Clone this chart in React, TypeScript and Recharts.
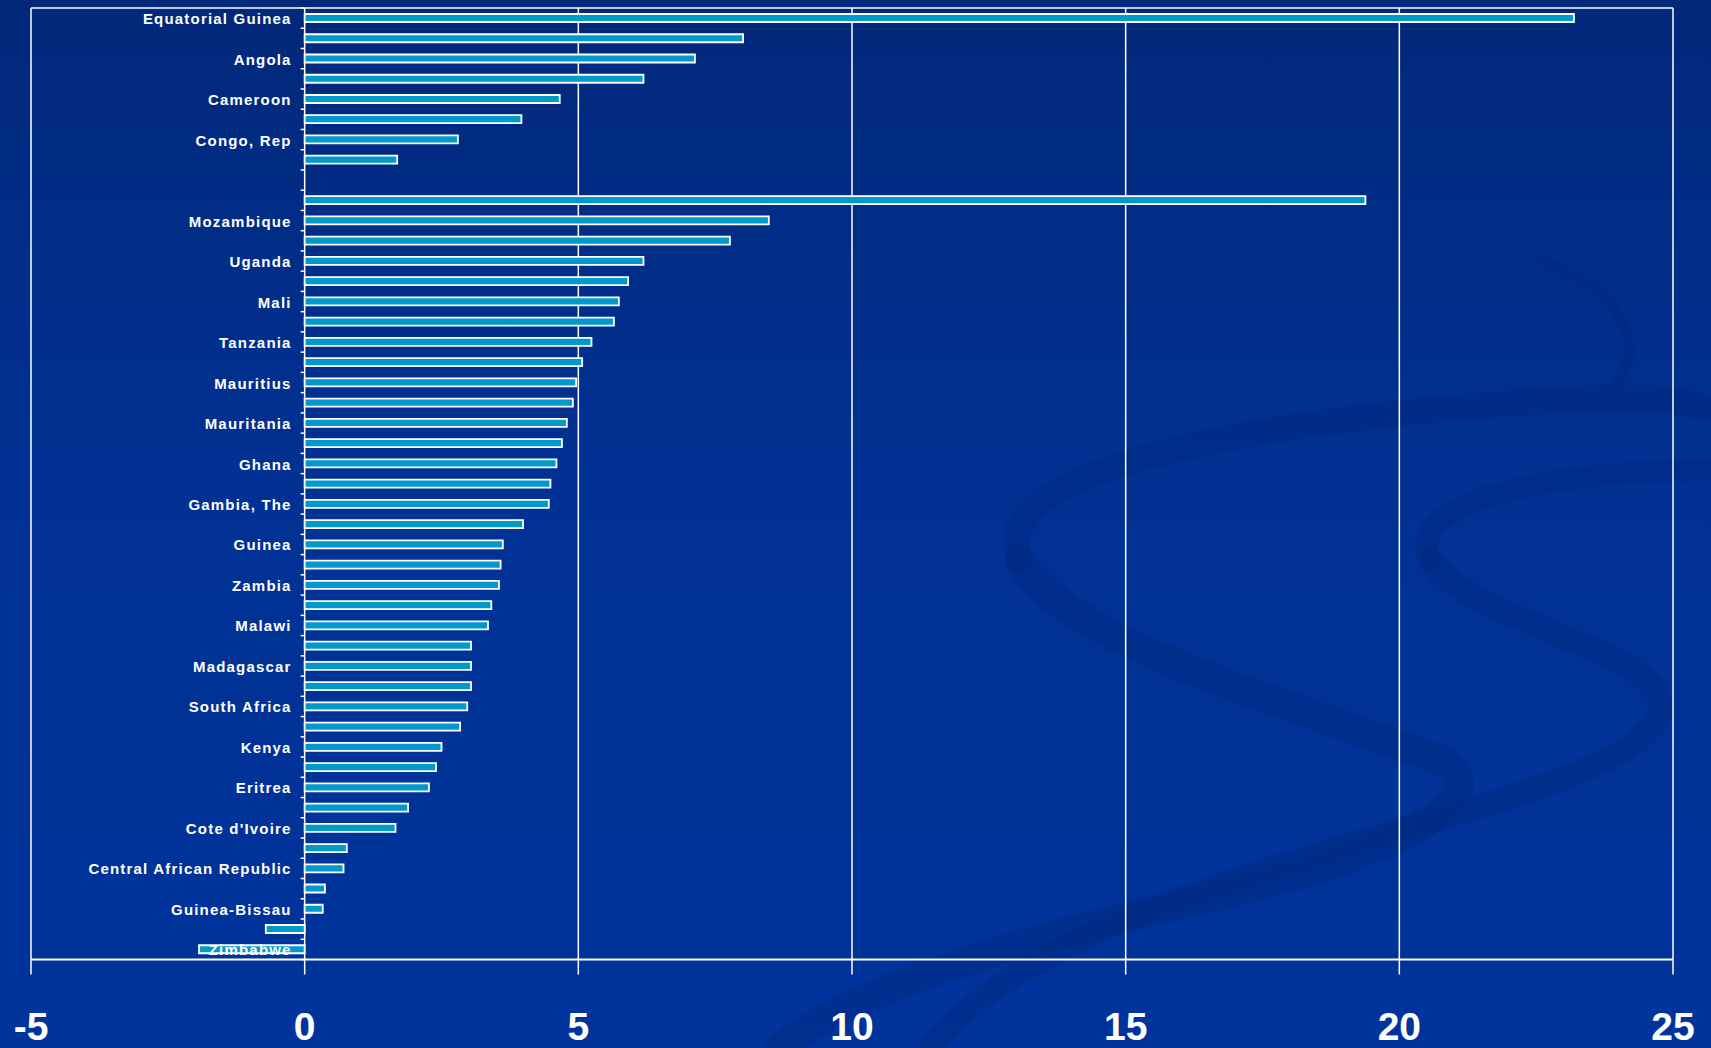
import { Bar, BarChart, CartesianGrid, XAxis, YAxis } from "recharts"

// countries, top to bottom (only every other one is labelled on the chart)
const countries = [
  "Equatorial Guinea", "Chad", "Angola", "Sudan", "Cameroon", "Nigeria", "Congo, Rep", "Gabon",
  "",
  "Sierra Leone", "Mozambique", "Rwanda", "Uganda", "Ethiopia", "Mali", "Burkina Faso",
  "Tanzania", "Cape Verde", "Mauritius", "Botswana", "Mauritania", "Benin", "Ghana", "Senegal",
  "Gambia, The", "Namibia", "Guinea", "Niger", "Zambia", "Lesotho", "Malawi", "Sao Tome",
  "Madagascar", "Swaziland", "South Africa", "Togo", "Kenya", "Comoros", "Eritrea", "Burundi",
  "Cote d'Ivoire", "Seychelles", "Central African Republic", "Congo, Dem Rep", "Guinea-Bissau",
  "Liberia", "Zimbabwe",
]

const growth = [
  23.19, 8.01, 7.13, 6.19, 4.66, 3.96, 2.8, 1.69,
  null,
  19.38, 8.48, 7.77, 6.19, 5.91, 5.74, 5.65,
  5.24, 5.07, 4.96, 4.9, 4.79, 4.7, 4.6, 4.49,
  4.46, 3.99, 3.62, 3.58, 3.55, 3.41, 3.35, 3.04,
  3.04, 3.04, 2.97, 2.84, 2.5, 2.4, 2.27, 1.89,
  1.66, 0.77, 0.71, 0.37, 0.33,
  -0.71, -1.93,
]

const xTicks = [-5, 0, 5, 10, 15, 20, 25]

const data = countries.map((name, i) => ({ name, value: growth[i] }))

const W = 1711
const H = 1048
const PLOT_LEFT = 31
const PLOT_RIGHT = 1673
const PLOT_TOP = 8
const PLOT_BOTTOM = 959.5
const ZERO_X = PLOT_LEFT + ((PLOT_RIGHT - PLOT_LEFT) * 5) / 30
const ROW = (PLOT_BOTTOM - PLOT_TOP) / countries.length

const CountryTick = ({ y, payload, index }: any) => {
  const idx = typeof index === "number" ? index : countries.indexOf(payload.value)
  const show = idx % 2 === 0 && payload.value
  return (
    <g>
      <line x1={ZERO_X - 4} x2={ZERO_X} y1={y - ROW / 2} y2={y - ROW / 2} stroke="#fff" strokeWidth={1.5} />
      {idx === countries.length - 1 && (
        <line x1={ZERO_X - 4} x2={ZERO_X} y1={y + ROW / 2} y2={y + ROW / 2} stroke="#fff" strokeWidth={1.5} />
      )}
      {show && (
        <text
          x={ZERO_X - 13}
          y={y}
          dy={6}
          textAnchor="end"
          fill="#fff"
          fontFamily="'Liberation Sans', Arial, sans-serif"
          fontWeight="bold"
          fontSize={15}
          letterSpacing={1.2}
        >
          {payload.value}
        </text>
      )}
    </g>
  )
}

const Swirls = () => (
  <svg width={W} height={H} style={{ position: "absolute", left: 0, top: 0 }}>
    <g fill="none" stroke="#00287c" strokeOpacity={0.4} strokeLinecap="round">
      <path d="M1020 560 C 980 470, 1250 420, 1560 400 C 1640 395, 1690 400, 1711 410" strokeWidth={26} />
      <path d="M1020 560 C 1060 640, 1280 700, 1440 760 C 1500 790, 1420 850, 1200 900 C 1000 945, 850 990, 780 1048" strokeWidth={30} />
      <path d="M1430 560 C 1400 500, 1560 470, 1711 470" strokeWidth={22} />
      <path d="M1430 560 C 1470 620, 1650 650, 1660 700 C 1670 760, 1500 800, 1300 860 C 1150 905, 1000 960, 930 1048" strokeWidth={24} />
      <path d="M1540 260 C 1640 300, 1650 360, 1600 400" strokeWidth={10} />
    </g>
  </svg>
)

const App = () => {
  return (
    <div
      style={{
        position: "absolute",
        left: 0,
        top: 0,
        width: W,
        height: H,
        overflow: "hidden",
        background: "linear-gradient(180deg, #02287a 0%, #013193 45%, #00349c 100%)",
      }}
    >
      <Swirls />
      <div style={{ position: "absolute", left: 0, top: 0 }}>
        <BarChart
          width={W}
          height={H}
          data={data}
          layout="vertical"
          margin={{ top: PLOT_TOP, right: W - PLOT_RIGHT, left: 0, bottom: 0 }}
          barCategoryGap={0}
        >
          <CartesianGrid stroke="#fff" strokeWidth={1.5} horizontalPoints={[PLOT_TOP]} />
          <XAxis
            type="number"
            domain={[-5, 25]}
            ticks={xTicks}
            interval={0}
            height={H - PLOT_BOTTOM}
            axisLine={{ stroke: "#fff", strokeWidth: 2 }}
            tickLine={{ stroke: "#fff", strokeWidth: 1.5 }}
            tickSize={15}
            tickMargin={38}
            tick={{ fill: "#fff", fontSize: 39, fontWeight: "bold", fontFamily: "'Liberation Sans', Arial, sans-serif" }}
          />
          <YAxis
            type="category"
            dataKey="name"
            width={PLOT_LEFT}
            interval={0}
            axisLine={false}
            tickLine={false}
            tick={<CountryTick />}
          />
          <Bar
            dataKey="value"
            fill="#0099cc"
            stroke="#fff"
            strokeWidth={1.8}
            barSize={8}
            isAnimationActive={false}
          />
        </BarChart>
      </div>
    </div>
  )
}

export default App
